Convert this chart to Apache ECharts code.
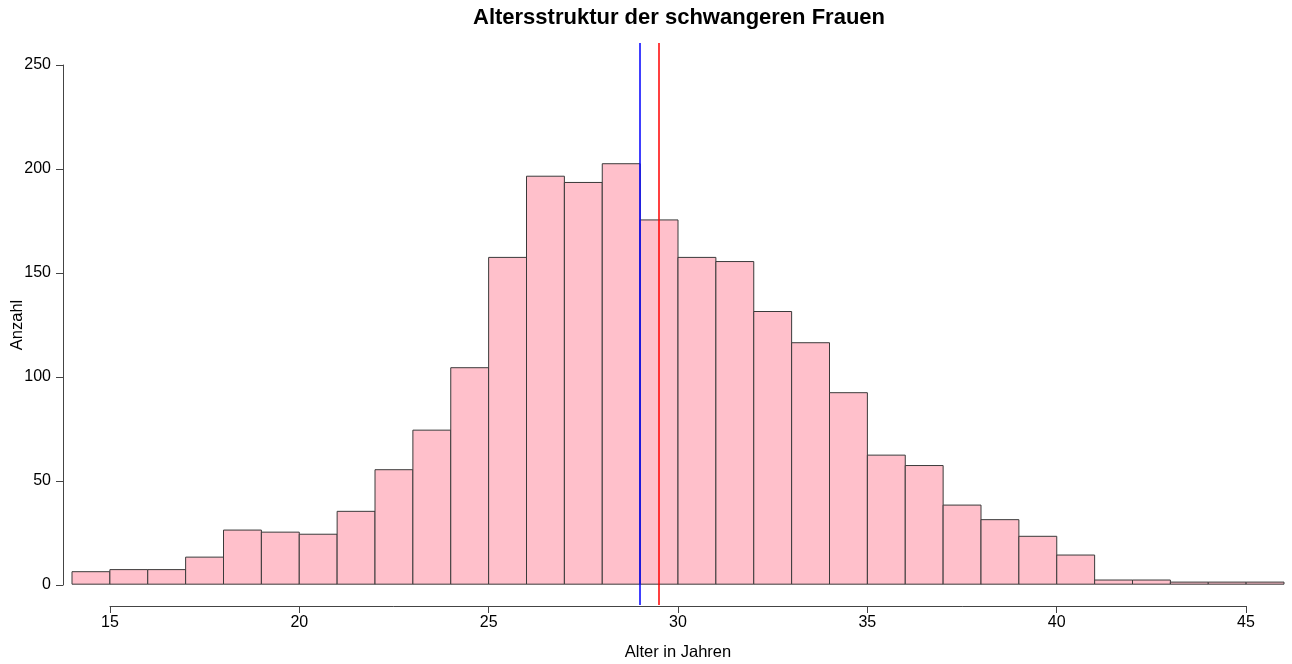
<!DOCTYPE html>
<html>
<head>
<meta charset="utf-8">
<title>Altersstruktur</title>
<script src="https://cdn.jsdelivr.net/npm/echarts@6/dist/echarts.min.js"></script>
<style>
  html, body { margin: 0; padding: 0; background: #fff; }
  #chart { width: 1292px; height: 664px; }
</style>
</head>
<body>
<div id="chart"></div>
<script>
// Klassengrenzen (linke Kante) und Häufigkeiten
const binStarts = [14, 15, 16, 17, 18, 19, 20, 21, 22, 23, 24, 25, 26, 27, 28, 29,
  30, 31, 32, 33, 34, 35, 36, 37, 38, 39, 40, 41, 42, 43, 44, 45]
const counts = [6, 7, 7, 13, 26, 25, 24, 35, 55, 74, 104, 157, 196, 193, 202, 175,
  157, 155, 131, 116, 92, 62, 57, 38, 31, 23, 14, 2, 2, 1, 1, 1]
const binWidth = 1
const medianAge = 29
const meanAge = 29.5

const xTicks = [15, 20, 25, 30, 35, 40, 45]
const yTicks = [0, 50, 100, 150, 200, 250]

const histData = binStarts.map((s, i) => [s, s + binWidth, counts[i]])

const font = 'Liberation Sans, Arial, sans-serif'
const chart = echarts.init(document.getElementById('chart'))

const option = {
  animation: false,
  graphic: [{
    type: 'text',
    x: 679,
    y: 18,
    style: {
      text: 'Altersstruktur der schwangeren Frauen',
      font: 'bold 22px ' + font,
      fill: '#000',
      align: 'center',
      verticalAlign: 'middle'
    }
  }],
  grid: [
    // Zeichenbereich für die Balken
    { left: 72, right: 8, top: 43, bottom: 59 },
    // y-Achse (0 bis 250)
    { left: 63, width: 1, top: 65, bottom: 79 },
    // x-Achse (15 bis 45)
    { left: 110, right: 46, top: 560, bottom: 58 }
  ],
  xAxis: [
    { gridIndex: 0, type: 'value', min: 14, max: 46, show: false },
    { gridIndex: 1, type: 'value', min: 0, max: 1, show: false },
    {
      gridIndex: 2,
      type: 'value',
      min: xTicks[0],
      max: xTicks[xTicks.length - 1],
      interval: 5,
      splitLine: { show: false },
      axisLine: { show: true, lineStyle: { color: '#444', width: 1 } },
      axisTick: { show: true, length: 7, lineStyle: { color: '#444' } },
      axisLabel: { fontSize: 16, color: '#000', fontFamily: font, margin: 9 },
      name: 'Alter in Jahren',
      nameLocation: 'middle',
      nameGap: 38,
      nameMoveOverlap: false,
      nameTextStyle: { fontSize: 16.5, color: '#000', fontFamily: font }
    }
  ],
  yAxis: [
    { gridIndex: 0, type: 'value', min: -10, max: 260, show: false },
    {
      gridIndex: 1,
      type: 'value',
      min: yTicks[0],
      max: yTicks[yTicks.length - 1],
      interval: 50,
      splitLine: { show: false },
      axisLine: { show: true, lineStyle: { color: '#444', width: 1 } },
      axisTick: { show: true, length: 7, lineStyle: { color: '#444' } },
      axisLabel: { fontSize: 16, color: '#000', fontFamily: font, margin: 12 },
      name: 'Anzahl',
      nameLocation: 'middle',
      nameGap: 37,
      nameMoveOverlap: false,
      nameTextStyle: { fontSize: 16.5, color: '#000', fontFamily: font }
    },
    { gridIndex: 2, type: 'value', min: 0, max: 1, show: false }
  ],
  series: [
    {
      type: 'custom',
      xAxisIndex: 0,
      yAxisIndex: 0,
      data: histData,
      renderItem: function (params, api) {
        const p0 = api.coord([api.value(0), 0])
        const p1 = api.coord([api.value(1), api.value(2)])
        return {
          type: 'rect',
          shape: { x: p0[0], y: p1[1], width: p1[0] - p0[0], height: p0[1] - p1[1] },
          style: { fill: '#FFC0CB', stroke: '#3a3a3a', lineWidth: 1 }
        }
      },
      markLine: {
        silent: true,
        symbol: 'none',
        label: { show: false },
        data: [
          { xAxis: medianAge, lineStyle: { color: '#0000ff', width: 1.5, type: 'solid' } },
          { xAxis: meanAge, lineStyle: { color: '#ff0000', width: 1.5, type: 'solid' } }
        ]
      }
    }
  ]
}

chart.setOption(option)
</script>
</body>
</html>
